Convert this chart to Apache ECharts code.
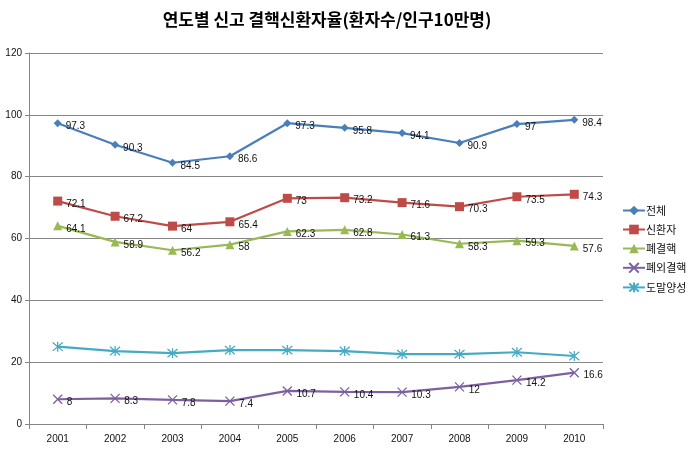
<!DOCTYPE html>
<html><head><meta charset="utf-8">
<script src="https://cdn.jsdelivr.net/npm/echarts@6/dist/echarts.min.js"></script>
<style>html,body{margin:0;padding:0;background:#fff}#c{width:688px;height:458px}</style>
</head><body><div id="c"></div>
<script>
const years = ['2001','2002','2003','2004','2005','2006','2007','2008','2009','2010'];
const seriesNames = ['전체','신환자','폐결핵','폐외결핵','도말양성'];
const total = [97.3, 90.3, 84.5, 86.6, 97.3, 95.8, 94.1, 90.9, 97, 98.4];
const newPatients = [72.1, 67.2, 64, 65.4, 73, 73.2, 71.6, 70.3, 73.5, 74.3];
const pulmonary = [64.1, 58.9, 56.2, 58, 62.3, 62.8, 61.3, 58.3, 59.3, 57.6];
const extraPulmonary = [8, 8.3, 7.8, 7.4, 10.7, 10.4, 10.3, 12, 14.2, 16.6];
const smearPositive = [25.0, 23.6, 22.9, 23.9, 23.9, 23.6, 22.6, 22.6, 23.2, 22.0];
const yTicks = [0, 20, 40, 60, 80, 100, 120];

const colors = ['#4A7EBB','#BE4B48','#98B954','#7D60A0','#46AAC5'];
const xPath = 'path://M0,0L10,10M10,0L0,10';
const starPath = 'path://M0,0L10,10M10,0L0,10M5,-1L5,11';
const symbols = ['diamond','rect','triangle',xPath,starPath];
const sizes = [8,9,9,9,10];
const data = [total,newPatients,pulmonary,extraPulmonary,smearPositive];
const showLabel = [true,true,true,true,false];

const series = seriesNames.map((n,i)=>({
  name:n, type:'line', data:data[i], symbol:symbols[i], symbolSize:sizes[i],
  lineStyle:{color:colors[i],width:2.2},
  itemStyle:{color:colors[i],borderColor:colors[i],borderWidth:(i>=3?1.3:0)},
  label:{show:showLabel[i],position:'right',offset:[-1,3],fontSize:10,color:'#111',fontFamily:'Liberation Sans, Arial'},
  animation:false
}));

const chart = echarts.init(document.getElementById('c'));
chart.setOption({
  animation:false,
  title:{text:'연도별 신고 결핵신환자율(환자수/인구10만명)',left:322,textAlign:'center',top:6,
    textStyle:{fontSize:17,fontWeight:'bold',color:'#000',fontFamily:'Noto Sans CJK KR'}},
  grid:{left:29,right:85,top:53,bottom:34},
  legend:{orient:'vertical',left:617,top:200,itemGap:8,itemWidth:22,itemHeight:12,
    textStyle:{fontSize:11,color:'#111',fontFamily:'Noto Sans CJK KR',padding:[0,0,0,-4]},data:seriesNames},
  xAxis:{type:'category',data:years,boundaryGap:true,
    axisLine:{lineStyle:{color:'#868686'}},
    axisTick:{show:true,alignWithLabel:false,length:5,lineStyle:{color:'#868686'}},
    axisLabel:{fontSize:10,color:'#111',margin:10,fontFamily:'Liberation Sans, Arial'}},
  yAxis:{type:'value',min:yTicks[0],max:yTicks[yTicks.length-1],interval:20,
    axisLine:{show:true,lineStyle:{color:'#868686'}},
    axisTick:{show:true,length:4,lineStyle:{color:'#868686'}},
    splitLine:{lineStyle:{color:'#868686',width:1}},
    axisLabel:{fontSize:10,color:'#111',margin:7,fontFamily:'Liberation Sans, Arial'}},
  series:series
});
</script></body></html>
